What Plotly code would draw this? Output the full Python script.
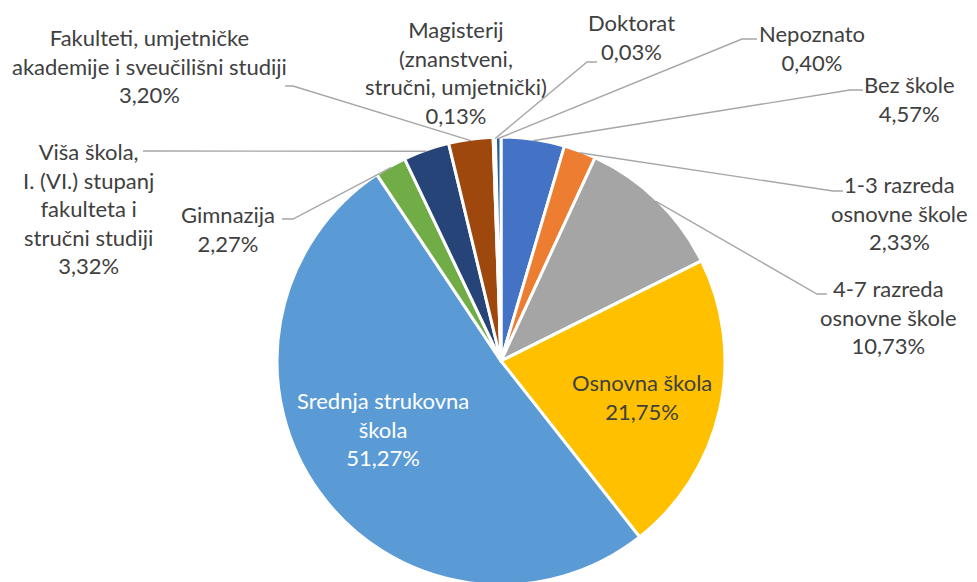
import math
import plotly.graph_objects as go

# ---- data ----
categories = ["Bez škole", "1-3 razreda osnovne škole", "4-7 razreda osnovne škole",
              "Osnovna škola", "Srednja strukovna škola", "Gimnazija",
              "Viša škola, I. (VI.) stupanj fakulteta i stručni studiji",
              "Fakulteti, umjetničke akademije i sveučilišni studiji",
              "Magisterij (znanstveni, stručni, umjetnički)", "Doktorat", "Nepoznato"]
values = [4.57, 2.33, 10.73, 21.75, 51.27, 2.27, 3.32, 3.20, 0.13, 0.03, 0.40]
label_lines = [
    ["Bez škole"],
    ["1-3 razreda", "osnovne škole"],
    ["4-7 razreda", "osnovne škole"],
    ["Osnovna škola"],
    ["Srednja strukovna", "škola"],
    ["Gimnazija"],
    ["Viša škola,", "I. (VI.) stupanj", "fakulteta i", "stručni studiji"],
    ["Fakulteti, umjetničke", "akademije i sveučilišni studiji"],
    ["Magisterij", "(znanstveni,", "stručni, umjetnički)"],
    ["Doktorat"],
    ["Nepoznato"],
]

# ---- styles / layout ----
colors = ["#4472C4", "#ED7D31", "#A5A5A5", "#FFC000", "#5B9BD5", "#70AD47",
          "#264478", "#9E480E", "#636363", "#997300", "#255E91"]
OFF = 8  # page body margin in the browser
W, H = 977 - OFF, 582
CX, CY, R = 501, 361, 224   # pie centre / radius in screen pixels
BORDER = 3
FONT = "Lato"
FS = 22
TXT = "#404040"

# label centre positions (screen px) and leader line start/elbow (screen px), None = no line
label_pos = [(909, 99), (899, 213), (888, 317), (642, 397), (383, 429), (228, 229),
             (88, 208), (149, 66), (456, 72), (631, 37), (812, 48)]
leader = [((863, 90), (850, 90)), ((843, 191), (833, 191)), ((827, 294), (817, 294)),
          None, None, ((282, 219), (293, 219)), ((143, 151), (153, 151)),
          ((285, 86), (293, 86)), None, ((597, 62), (587, 62)), ((757, 39), (742, 39))]
text_colors = [TXT] * len(values)
text_colors[4] = "white"


def px(x, y):
    return (x - OFF) / W, 1 - (y - OFF) / H


fx, fy = CX - OFF, CY - OFF
fig = go.Figure(go.Pie(
    labels=categories, values=values, sort=False, direction="clockwise", rotation=0,
    marker=dict(colors=colors, line=dict(color="white", width=BORDER)),
    textinfo="none", hoverinfo="skip", showlegend=False,
    domain=dict(x=[(fx - R) / W, (fx + R) / W], y=[1 - (fy + R) / H, 1 - (fy - R) / H]),
))

total = sum(values)
cum = 0.0
annotations = []
shapes = []
RV = R - BORDER / 2
for i, v in enumerate(values):
    mid = (cum + v / 2) / total
    cum += v
    ang = 2 * math.pi * mid
    ex, ey = CX + RV * math.sin(ang), CY - RV * math.cos(ang)
    pct = f"{v:.2f}".replace(".", ",") + "%"
    text = "<br>".join(label_lines[i] + [pct])
    lx, ly = label_pos[i]
    ax, ay = px(lx, ly)
    annotations.append(dict(x=ax, y=ay, xref="paper", yref="paper", text=text,
                            showarrow=False, xanchor="center", yanchor="middle",
                            align="center",
                            font=dict(family=FONT, size=FS, color=text_colors[i])))
    if leader[i] is not None:
        (sx, sy), (bx, by) = leader[i]
        p1 = px(sx, sy); p2 = px(bx, by); p3 = px(ex, ey)
        path = f"M {p1[0]},{p1[1]} L {p2[0]},{p2[1]} L {p3[0]},{p3[1]}"
        shapes.append(dict(type="path", path=path, xref="paper", yref="paper",
                           line=dict(color="#A6A6A6", width=1.4)))

fig.update_layout(width=W, height=H, margin=dict(l=0, r=0, t=0, b=0),
                  paper_bgcolor="white", plot_bgcolor="white",
                  annotations=annotations, shapes=shapes)
fig.write_html("out.html", config={"displayModeBar": False})
